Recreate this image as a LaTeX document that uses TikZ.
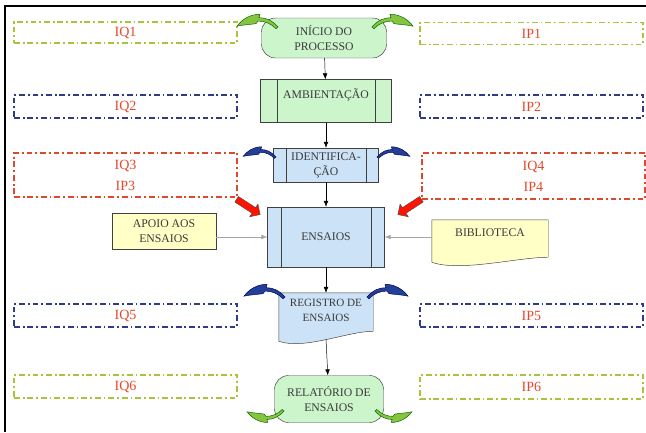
\documentclass[tikz,border=0pt]{standalone}
\usepackage{fontspec}
\setmainfont{Liberation Serif}
\usetikzlibrary{shapes.arrows,backgrounds,arrows.meta}
\definecolor{mintgreen}{HTML}{CCF5CC}
\definecolor{paleblue}{HTML}{CCE2F6}
\definecolor{paleyellow}{HTML}{FFFFC6}
\definecolor{tagred}{HTML}{E4472B}
\definecolor{dashgreen}{HTML}{A9C43A}
\definecolor{dashblue}{HTML}{2E3C88}
\definecolor{dashred}{HTML}{E0482E}
\definecolor{leafgreen}{HTML}{86C440}
\definecolor{leafblue}{HTML}{22409A}
\definecolor{inktext}{HTML}{3A3A3A}
\newcommand{\px}{0.3mm}

\tikzset{
  tag/.style={draw, line width=1.3pt, dash pattern=on 5pt off 2.5pt on 1.5pt off 2.5pt,
    minimum width=223*\px, text=tagred, font=\fontsize{12}{18}\selectfont, align=center},
  flow/.style={draw=black!75, text=inktext, font=\fontsize{10}{13}\selectfont, align=center, inner sep=0pt},
  terminal/.style={flow, fill=mintgreen, rounded corners=14*\px},
  process/.style={flow},
  document/.style={flow, draw=none},
  link/.style={-{Latex[length=5pt,width=4pt]}, black},
  feed/.style={-{Latex[length=5pt,width=4pt]}, black!35},
  blockarrow/.style={single arrow, fill=red!85!orange, draw=black!70, inner sep=2.5*\px,
    minimum height=28*\px, minimum width=15*\px, single arrow head extend=3.5*\px},
  curl/.pic={
    \path[pic actions, yscale=0.85] (0,0) .. controls (-6,-8) and (-12,-11) .. (-19,-11)
      -- (-18,-15) .. controls (-28,-15) and (-36,-9) .. (-41,-1)
      .. controls (-33,-3) and (-26,-3) .. (-22,-4)
      -- (-20,-7) .. controls (-13,-7) and (-7,-4) .. (-2,2) -- cycle;
  }
}

\begin{document}
\begin{tikzpicture}[x=\px, y=-\px]
  \useasboundingbox (0,0) rectangle (646,432);
  \draw[line width=2pt] (5,432) -- (5,6) -- (646,6);

  % quality / process tags
  \node (iq1) [tag, draw=dashgreen, minimum height=21*\px] at (125.5,32.5) {IQ1};
  \node (ip1) [tag, draw=dashgreen, minimum height=22*\px] at (531.5,33.5) {IP1};
  \node (iq2) [tag, draw=dashblue, minimum height=23*\px] at (125.5,106.5) {IQ2};
  \node (ip2) [tag, draw=dashblue, minimum height=23*\px] at (531.5,106.5) {IP2};
  \node (iq3) [tag, draw=dashred, minimum height=44*\px] at (125.5,175) {IQ3\\IP3};
  \node (iq4) [tag, draw=dashred, minimum height=46*\px] at (533.5,176) {IQ4\\IP4};
  \node (iq5) [tag, draw=dashblue, minimum height=23*\px] at (125.5,315.5) {IQ5};
  \node (ip5) [tag, draw=dashblue, minimum height=23*\px] at (531.5,315.5) {IP5};
  \node (iq6) [tag, draw=dashgreen, minimum height=23*\px] at (125.5,386.5) {IQ6};
  \node (ip6) [tag, draw=dashgreen, minimum height=24*\px] at (531.5,387) {IP6};

  % main flow
  \node (inicio) [terminal, minimum width=125*\px, minimum height=40*\px] at (324,38) {INÍCIO DO\\PROCESSO};
  \node (amb) [process, fill=mintgreen, minimum width=131*\px, minimum height=43*\px] at (326,101) {AMBIENTAÇÃO\\\mbox{}};
  \node (ident) [process, fill=paleblue, minimum width=105*\px, minimum height=34*\px] at (326,165) {IDENTIFICA-\\ÇÃO};
  \node (ensaios) [process, fill=paleblue, minimum width=117*\px, minimum height=60*\px] at (326,237) {ENSAIOS};
  \node (registro) [document, minimum width=94*\px, minimum height=34*\px, font=\fontsize{9.5}{13}\selectfont] at (326,310) {REGISTRO DE\\ENSAIOS};
  \node (relatorio) [terminal, minimum width=109*\px, minimum height=47*\px] at (329,399) {RELATÓRIO DE\\ENSAIOS};
  \node (apoio) [flow, fill=paleyellow, minimum width=104*\px, minimum height=36*\px] at (164,231) {APOIO AOS\\ENSAIOS};
  \node (biblio) [document, minimum width=116*\px, minimum height=26*\px] at (490,233) {BIBLIOTECA};

  \begin{scope}[on background layer]
    \draw[black!75, fill=paleblue] (registro.north west) -- (registro.north east)
      -- ([yshift=-4*\px]registro.south east) .. controls +(-25,0) and +(25,9) .. ([yshift=-14*\px]registro.south west) -- cycle;
    \draw[black!75, fill=paleyellow] (biblio.north west) -- (biblio.north east)
      -- ([yshift=-11*\px]biblio.south east) .. controls +(-30,0) and +(28,10) .. ([yshift=-16*\px]biblio.south west) -- cycle;
  \end{scope}

  \foreach \n/\d in {amb/17, ident/13, ensaios/14} {
    \draw[black!75] ([xshift=\d*\px]\n.north west) -- ([xshift=\d*\px]\n.south west);
    \draw[black!75] ([xshift=-\d*\px]\n.north east) -- ([xshift=-\d*\px]\n.south east);
  }

  \draw[link] (inicio) -- (amb);
  \draw[link] (amb) -- (ident);
  \draw[link] (ident) -- (ensaios);
  \draw[link] (ensaios) -- (registro);
  \draw[link] ([yshift=-12*\px]registro.south) -- (relatorio);
  \draw[feed] (apoio.east |- ensaios.west) -- (ensaios.west);
  \draw[feed] (biblio.west |- ensaios.east) -- (ensaios.east);

  \node (seta3) [blockarrow, rotate=-33] at (247,206) {};
  \node (seta4) [blockarrow, rotate=-147] at (411,206) {};

  % curled ribbons on the corners
  \pic[fill=leafgreen, draw=green!40!black, thin] at (278,27) {curl};
  \pic[fill=leafgreen, draw=green!40!black, thin, xscale=-1] at (372,27) {curl};
  \pic[fill=leafblue, draw=blue!30!black, thin, scale=0.8] at (276,157) {curl};
  \pic[fill=leafblue, draw=blue!30!black, thin, scale=0.8, xscale=-1] at (377,157) {curl};
  \pic[fill=leafblue, draw=blue!30!black, thin] at (285,297) {curl};
  \pic[fill=leafblue, draw=blue!30!black, thin, xscale=-1] at (367,297) {curl};
  \pic[fill=leafgreen, draw=green!40!black, thin, scale=0.9, yscale=-1] at (284,411) {curl};
  \pic[fill=leafgreen, draw=green!40!black, thin, scale=0.9, xscale=-1, yscale=-1] at (375,411) {curl};
\end{tikzpicture}
\end{document}
